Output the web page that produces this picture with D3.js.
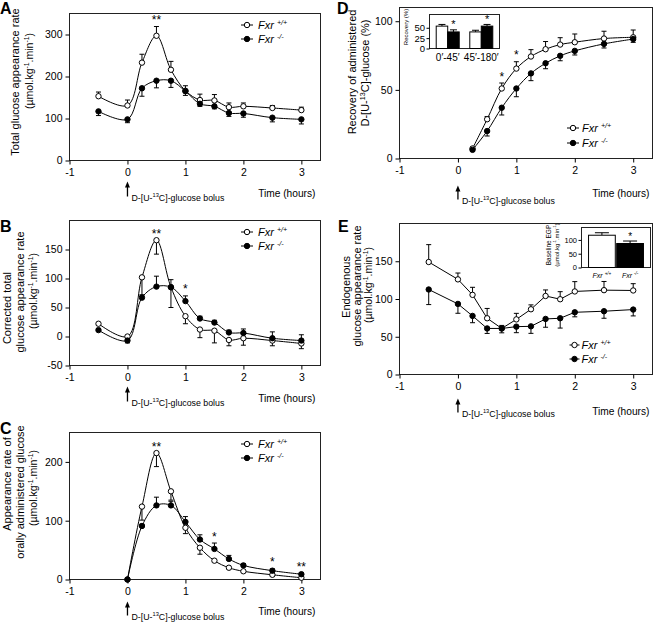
<!DOCTYPE html>
<html>
<head>
<meta charset="utf-8">
<script src="https://cdn.jsdelivr.net/npm/d3@7"></script>
<style>
  body { margin: 0; background: #fff; }
  svg { font-family: "Liberation Sans", Arial, Helvetica, sans-serif; }
</style>
</head>
<body>
<svg id="chart" width="656" height="622"></svg>
<script>
// time points (hours)
var hoursFull = [-0.5, 0, 0.25, 0.5, 0.75, 1, 1.25, 1.5, 1.75, 2, 2.5, 3];
var hoursC = [0, 0.25, 0.5, 0.75, 1, 1.25, 1.5, 1.75, 2, 2.5, 3];
var hoursD = [0.25, 0.5, 0.75, 1, 1.25, 1.5, 1.75, 2, 2.5, 3];
var xTicks = [-1, 0, 1, 2, 3];

// A: total glucose appearance rate (error signed: + drawn up, - drawn down)
var totalWt = [153, 131, 233, 297, 216, 166, 144, 143, 127, 129, 125, 120];
var totalWtErr = [10, 13, 20, 22, 20, 12, 14, 14, 10, 8, 6, 7];
var totalKo = [117, 98, 172, 190, 190, 165, 135, 129, 113, 112, 102, 98];
var totalKoErr = [-10, -8, -19, -17, -16, -10, -6, -6, -8, -9, -10, -11];
var starsA = [[0.5, "**"]];

// B: corrected total glucose appearance rate
var corrWt = [22, 0, 102, 166, 85, 35, 12, 10, -6, -3, -7, -12];
var corrWtErr = [-3, -11, -32, -24, -35, -13, -14, -21, -10, -12, -9, -9];
var corrKo = [11, -7, 67, 86, 85, 61, 31, 24, 7, 6, -3, -7];
var corrKoErr = [3, 3, 5, 18, 13, 9, 4, 4, 4, 7, 11, 10];
var starsB = [[0.5, "**"], [1, "*"]];

// C: appearance rate of orally administered glucose
var oralWt = [0, 124, 215, 150, 88, 54, 32, 20, 14, 8, 3];
var oralWtErr = [-1, -23, -23, -15, -10, -11, -2, -2, -2, -2, -2];
var oralKo = [0, 91, 126, 126, 98, 68, 52, 35, 24, 15, 9];
var oralKoErr = [1, 3, 14, 7, 9, 8, 10, 6, 3, 3, 2];
var starsC = [[0.5, "**"], [1.5, "*"], [2.5, "*"], [3, "**"]];

// D: recovery of administered glucose (%)
var recWt = [7.3, 28.6, 51, 65.5, 74.3, 79.6, 83, 84.7, 87.4, 88.3];
var recWtErr = [1, 2, 4, 5, 5, 5.6, 5, 6, 5.3, 5.3];
var recKo = [6.3, 20, 37, 51, 62, 69.4, 74.8, 78.4, 83.5, 87];
var recKoErr = [-1, -3.6, -5.3, -6, -5.3, -4, -3.6, -3, -3, -2.4];
var starsD = [[0.75, "*"], [1, "*"]];

// D inset: recovery per period
var periods = ["0\u2032-45\u2032", "45\u2032-180\u2032"];
var periodWt = [54, 40];
var periodWtErr = [4, 4];
var periodKo = [40, 54];
var periodKoErr = [5, 4];
var periodKoStars = ["*", "*"];

// E: endogenous glucose appearance rate
var endoWt = [149, 126, 105.5, 74.5, 61, 73, 86.4, 104, 99.7, 110, 111.7, 111.3];
var endoWtErr = [23, 8.4, 10, 13, 4, 8, 5.8, 8, 10, 13, 11.5, 9];
var endoKo = [112.6, 93.5, 77.6, 61, 61, 63.4, 63.8, 73.6, 74.5, 82.4, 83.8, 86];
var endoKoErr = [-20, -12.4, -9, -6.6, -5.8, -8, -9.3, -11, -13, -6, -9.3, -8.4];

// E inset: baseline EGP
var genotypes = ["Fxr ^{+/+}", "Fxr ^{-/-}"];
var baseEgp = [117, 87];
var baseEgpErr = [9, 9];
var baseEgpStars = ["", "*"];

var UNITS = "(\u00b5mol.kg^{-1}.min^{-1})";

var svg = d3.select("#chart");

// text with ^{...} superscripts
function rich(text, str, fs) {
  var parts = str.split(/(\^\{[^}]*\})/);
  var up = false;
  parts.forEach(function(p) {
    if (!p) return;
    var m = p.match(/^\^\{(.*)\}$/);
    if (m) {
      text.append("tspan").attr("font-size", fs * 0.65).attr("dy", -fs * 0.38).text(m[1]);
      up = true;
    } else {
      var t = text.append("tspan").text(p);
      if (up) { t.attr("dy", fs * 0.38); up = false; }
    }
  });
  return text;
}

function styleAxis(a, fs) {
  a.select(".domain").remove();
  a.attr("font-size", null).attr("font-family", null);
  a.selectAll(".tick line").attr("stroke", "#000");
  a.selectAll(".tick text").attr("font-size", fs).attr("fill", "#000");
}

function drawPanel(cfg) {
  var g = svg.append("g");
  var x = d3.scaleLinear().domain([-1, 3.33]).range([cfg.left, cfg.right]);
  var y = d3.scaleLinear().domain(cfg.yDomain).range([cfg.bottom, cfg.top]);

  g.append("rect")
      .attr("x", cfg.left).attr("y", cfg.top)
      .attr("width", cfg.right - cfg.left).attr("height", cfg.bottom - cfg.top)
      .attr("fill", "none").attr("stroke", "#222").attr("stroke-width", 1);

  g.append("g")
      .attr("transform", "translate(0," + cfg.bottom + ")")
      .call(d3.axisBottom(x).tickValues(xTicks).tickSize(4).tickPadding(4).tickFormat(String))
      .call(styleAxis, 10.5);

  g.append("g")
      .attr("transform", "translate(" + cfg.left + ",0)")
      .call(d3.axisLeft(y).tickValues(cfg.yTicks).tickSize(4).tickPadding(3).tickFormat(String))
      .call(styleAxis, 10.5);

  // y title lines
  cfg.titles.forEach(function(t) {
    var txt = g.append("text")
        .attr("transform", "translate(" + t[1] + "," + t[2] + ") rotate(-90)")
        .attr("text-anchor", "middle")
        .attr("dy", "0.35em")
        .attr("font-size", t[3]);
    rich(txt, t[0], t[3]);
  });

  // panel letter
  g.append("text").attr("x", cfg.letter[1]).attr("y", cfg.letter[2])
      .attr("font-size", 16).attr("font-weight", "bold").text(cfg.letter[0]);

  // bolus arrow and label
  var x0 = x(0);
  g.append("line").attr("x1", x0).attr("x2", x0)
      .attr("y1", cfg.bottom + cfg.arrow[0] + 4).attr("y2", cfg.bottom + cfg.arrow[1])
      .attr("stroke", "#000").attr("stroke-width", 1.3);
  g.append("path")
      .attr("d", "M" + x0 + "," + (cfg.bottom + cfg.arrow[0]) + "l-2.5,6h5z")
      .attr("fill", "#000");
  rich(g.append("text").attr("x", x0 + 4).attr("y", cfg.bottom + cfg.arrow[1] + 4)
      .attr("font-size", 8.8), "D-[U-^{13}C]-glucose bolus", 8.8);

  g.append("text").attr("x", cfg.right - cfg.timeDx).attr("y", cfg.bottom + cfg.timeDy)
      .attr("text-anchor", "end").attr("font-size", 10.2).text("Time (hours)");

  // series
  var series = cfg.series.map(function(s) {
    return { filled: s.filled, pts: s.xs.map(function(d, i) { return { x: d, v: s.vals[i], e: s.errs[i] }; }) };
  });
  var line = d3.line().x(function(d) { return x(d.x); }).y(function(d) { return y(d.v); }).curve(cfg.curve);

  series.forEach(function(s) {
    g.append("path").datum(s.pts).attr("d", line)
        .attr("fill", "none").attr("stroke", "#000").attr("stroke-width", 1);
  });
  series.forEach(function(s) {
    var eb = g.append("g").attr("stroke", "#000").attr("stroke-width", 1)
      .selectAll("g").data(s.pts).enter().append("g");
    eb.append("line")
        .attr("x1", function(d) { return x(d.x); }).attr("x2", function(d) { return x(d.x); })
        .attr("y1", function(d) { return y(d.v); }).attr("y2", function(d) { return y(d.v + d.e); });
    eb.append("line")
        .attr("x1", function(d) { return x(d.x) - 2.5; }).attr("x2", function(d) { return x(d.x) + 2.5; })
        .attr("y1", function(d) { return y(d.v + d.e); }).attr("y2", function(d) { return y(d.v + d.e); });
  });
  series.forEach(function(s) {
    g.append("g").selectAll("circle").data(s.pts).enter().append("circle")
        .attr("cx", function(d) { return x(d.x); })
        .attr("cy", function(d) { return y(d.v); })
        .attr("r", 2.7)
        .attr("fill", s.filled ? "#000" : "#fff")
        .attr("stroke", "#000").attr("stroke-width", 1);
  });

  // significance stars above highest point / error bar
  cfg.stars.forEach(function(st) {
    var top = d3.max(series, function(s) {
      var p = s.pts.find(function(d) { return d.x === st[0]; });
      return p ? Math.max(p.v, p.v + p.e) : -Infinity;
    });
    g.append("text").attr("x", x(st[0])).attr("y", y(top) - 2.5)
        .attr("text-anchor", "middle").attr("font-size", 12).text(st[1]);
  });

  // legend
  var lg = cfg.legend;
  [["Fxr ^{+/+}", false], ["Fxr ^{-/-}", true]].forEach(function(it, i) {
    var ly = lg.y[i];
    g.append("line").attr("x1", lg.x - lg.half).attr("x2", lg.x + lg.half)
        .attr("y1", ly).attr("y2", ly).attr("stroke", "#000");
    g.append("circle").attr("cx", lg.x).attr("cy", ly).attr("r", 2.7)
        .attr("fill", it[1] ? "#000" : "#fff").attr("stroke", "#000");
    rich(g.append("text").attr("x", lg.x + lg.dx).attr("y", ly).attr("dy", "0.35em")
        .attr("font-size", 11).attr("font-style", "italic"), it[0], 11);
  });
  return g;
}

function drawInset(cfg) {
  var g = svg.append("g");
  var y = d3.scaleLinear().domain(cfg.yDomain).range([cfg.bottom, cfg.top]);
  var x0 = d3.scaleBand().domain(cfg.cats).range([cfg.left, cfg.right])
      .paddingInner(cfg.padInner).paddingOuter(cfg.padOuter);

  g.append("rect").attr("x", cfg.left).attr("y", cfg.top)
      .attr("width", cfg.right - cfg.left).attr("height", cfg.bottom - cfg.top)
      .attr("fill", "#fff").attr("stroke", "#222");

  var bars = [];
  cfg.groups.forEach(function(gr) {
    var x1 = d3.scaleBand().domain(d3.range(gr.length)).range([0, x0.bandwidth()]).paddingInner(cfg.gap);
    gr.forEach(function(b, j) {
      bars.push({ x: x0(b.cat) + x1(j), w: x1.bandwidth(), v: b.v, e: b.e, filled: b.filled, star: b.star });
    });
  });

  var bg = g.selectAll("g.bar").data(bars).enter().append("g");
  bg.append("line")
      .attr("x1", function(d) { return d.x + d.w / 2; }).attr("x2", function(d) { return d.x + d.w / 2; })
      .attr("y1", function(d) { return y(d.v); }).attr("y2", function(d) { return y(d.v + d.e); })
      .attr("stroke", "#000");
  bg.append("line")
      .attr("x1", function(d) { return d.x + d.w / 2 - cfg.cap; }).attr("x2", function(d) { return d.x + d.w / 2 + cfg.cap; })
      .attr("y1", function(d) { return y(d.v + d.e); }).attr("y2", function(d) { return y(d.v + d.e); })
      .attr("stroke", "#000");
  bg.append("rect")
      .attr("x", function(d) { return d.x; }).attr("y", function(d) { return y(d.v); })
      .attr("width", function(d) { return d.w; }).attr("height", function(d) { return y(0) - y(d.v); })
      .attr("fill", function(d) { return d.filled ? "#000" : "#fff"; })
      .attr("stroke", "#000");
  bg.append("text")
      .attr("x", function(d) { return d.x + d.w / 2; })
      .attr("y", function(d) { return y(d.v + d.e) - 1.5; })
      .attr("text-anchor", "middle").attr("font-size", cfg.starSize)
      .text(function(d) { return d.star || ""; });

  g.append("g").attr("transform", "translate(" + cfg.left + ",0)")
      .call(d3.axisLeft(y).tickValues(cfg.yTicks).tickSize(3).tickPadding(1.5).tickFormat(String))
      .call(styleAxis, cfg.tickSize);

  cfg.cats.forEach(function(c) {
    rich(g.append("text").attr("x", x0(c) + x0.bandwidth() / 2).attr("y", cfg.catY)
        .attr("text-anchor", "middle").attr("font-size", cfg.catSize)
        .attr("font-style", cfg.catItalic ? "italic" : null), c, cfg.catSize);
  });

  cfg.titles.forEach(function(t) {
    rich(g.append("text")
        .attr("transform", "translate(" + t[1] + "," + t[2] + ") rotate(-90)")
        .attr("text-anchor", "middle").attr("dy", "0.35em").attr("font-size", t[3]), t[0], t[3]);
  });
}

var smooth = d3.curveCatmullRom;

drawPanel({
  left: 69.5, right: 320.5, top: 13.5, bottom: 160.5,
  yDomain: [0, 350], yTicks: [0, 100, 200, 300], curve: smooth,
  titles: [["Total glucose appearance rate", 15, 82, 11], [UNITS, 29, 71, 10.5]],
  letter: ["A", 0, 13.5],
  arrow: [21, 36], timeDx: 5, timeDy: 36,
  series: [
    { xs: hoursFull, vals: totalWt, errs: totalWtErr, filled: false },
    { xs: hoursFull, vals: totalKo, errs: totalKoErr, filled: true }
  ],
  stars: starsA,
  legend: { x: 247, y: [25, 39], half: 6, dx: 11 }
});

drawPanel({
  left: 69.5, right: 320.5, top: 220.5, bottom: 365.5,
  yDomain: [-50, 200], yTicks: [-50, 0, 50, 100, 150], curve: smooth,
  titles: [["Corrected total", 7, 308, 11], ["glucose appearance rate", 20, 292, 11], [UNITS, 33, 291, 10.5]],
  letter: ["B", 0, 232],
  arrow: [21, 36], timeDx: 5, timeDy: 36,
  series: [
    { xs: hoursFull, vals: corrWt, errs: corrWtErr, filled: false },
    { xs: hoursFull, vals: corrKo, errs: corrKoErr, filled: true }
  ],
  stars: starsB,
  legend: { x: 247, y: [232, 246], half: 6, dx: 11 }
});

drawPanel({
  left: 69.5, right: 320.5, top: 432.5, bottom: 579.5,
  yDomain: [0, 250], yTicks: [0, 100, 200], curve: smooth,
  titles: [["Appearance rate of", 7, 484, 11], ["orally administered glucose", 20, 492, 11], [UNITS, 33, 488, 10.5]],
  letter: ["C", 0, 434],
  arrow: [22, 36], timeDx: 5, timeDy: 35,
  series: [
    { xs: hoursC, vals: oralWt, errs: oralWtErr, filled: false },
    { xs: hoursC, vals: oralKo, errs: oralKoErr, filled: true }
  ],
  stars: starsC,
  legend: { x: 247, y: [444, 458], half: 6, dx: 11 }
});

drawPanel({
  left: 399.5, right: 652.5, top: 7.5, bottom: 158.5,
  yDomain: [0, 110], yTicks: [0, 50, 100], curve: smooth,
  titles: [["Recovery of administered", 352, 72, 11], ["D-[U-^{13}C]-glucose (%)", 365, 73, 11]],
  letter: ["D", 337, 13.5],
  arrow: [27, 41], timeDx: 3, timeDy: 38,
  series: [
    { xs: hoursD, vals: recWt, errs: recWtErr, filled: false },
    { xs: hoursD, vals: recKo, errs: recKoErr, filled: true }
  ],
  stars: starsD,
  legend: { x: 573, y: [128, 143], half: 6, dx: 9 }
});

drawInset({
  left: 429.5, right: 499.5, top: 14.5, bottom: 48.5,
  yDomain: [0, 82], yTicks: [0, 25, 50],
  cats: periods, padInner: 0.315, padOuter: 0.2, gap: 0,
  groups: periods.map(function(p, i) {
    return [
      { cat: p, v: periodWt[i], e: periodWtErr[i], filled: false },
      { cat: p, v: periodKo[i], e: periodKoErr[i], filled: true, star: periodKoStars[i] }
    ];
  }),
  cap: 3.5, starSize: 11, tickSize: 9.5,
  catY: 61, catSize: 10, catItalic: false,
  titles: [["Recovery (%)", 406, 27, 6]]
});

drawPanel({
  left: 399.5, right: 652.5, top: 223.5, bottom: 374.5,
  yDomain: [0, 200], yTicks: [0, 50, 100, 150], curve: d3.curveLinear,
  titles: [["Endogenous", 346, 287, 11], ["glucose appearance rate", 357, 286, 11], [UNITS, 368, 285, 10.5]],
  letter: ["E", 338, 232],
  arrow: [24, 38], timeDx: 3, timeDy: 40,
  series: [
    { xs: hoursFull, vals: endoWt, errs: endoWtErr, filled: false },
    { xs: hoursFull, vals: endoKo, errs: endoKoErr, filled: true }
  ],
  stars: [],
  legend: { x: 574.5, y: [345, 359], half: 5, dx: 7 }
});

drawInset({
  left: 581.5, right: 650.5, top: 227.5, bottom: 267.5,
  yDomain: [0, 145], yTicks: [0, 50, 100],
  cats: genotypes, padInner: 0.05, padOuter: 0.25, gap: 0,
  groups: genotypes.map(function(gt, i) {
    return [{ cat: gt, v: baseEgp[i], e: baseEgpErr[i], filled: i === 1, star: baseEgpStars[i] }];
  }),
  cap: 7, starSize: 10, tickSize: 7.5,
  catY: 278, catSize: 7, catItalic: true,
  titles: [["Baseline EGP", 549, 245, 6.5], [UNITS, 556.5, 245, 6]]
});
</script>
</body>
</html>
